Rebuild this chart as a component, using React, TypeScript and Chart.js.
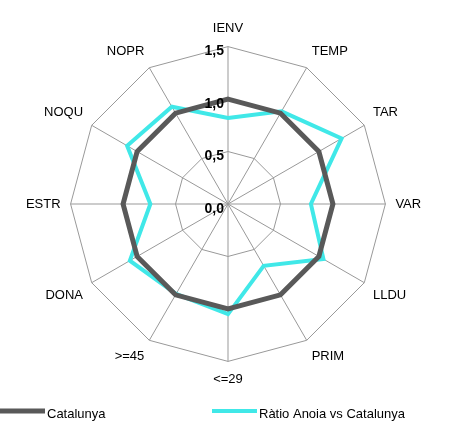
import React, { useEffect, useRef } from "react";
import { Chart, registerables } from "chart.js";
Chart.register(...registerables);

const categories = ["IENV","TEMP","TAR","VAR","LLDU","PRIM","<=29",">=45","DONA","ESTR","NOQU","NOPR"];
const catalunya = [1,1,1,1,1,1,1,1,1,1,1,1];
const anoia = [0.82,1.02,1.25,0.79,1.05,0.68,1.05,0.99,1.08,0.74,1.11,1.07];
const tickValues = [0, 0.5, 1, 1.5];

const FONT = "Liberation Sans";

const overlay = {
  id: "overlay",
  afterDraw(chart: any) {
    const ctx = chart.ctx;
    const r = chart.scales.r;
    ctx.save();
    ctx.font = `bold 14px ${FONT}`;
    ctx.fillStyle = "#000";
    ctx.textAlign = "right";
    ctx.textBaseline = "middle";
    for (const v of tickValues) {
      const y = r.yCenter - r.getDistanceFromCenterForValue(v);
      ctx.fillText(v.toFixed(1).replace(".", ","), r.xCenter - 4, y + 5);
    }
    ctx.font = `13px ${FONT}`;
    ctx.textAlign = "left";
    const items = [{ x: 0, ds: 0 }, { x: 212, ds: 1 }];
    for (const it of items) {
      const ds = chart.data.datasets[it.ds];
      ctx.strokeStyle = ds.borderColor;
      ctx.lineWidth = ds.borderWidth;
      ctx.beginPath();
      ctx.moveTo(it.x, 411);
      ctx.lineTo(it.x + 45, 411);
      ctx.stroke();
      ctx.fillText(ds.label, it.x + 47, 414);
    }
    ctx.restore();
  },
};

export default function App() {
  const ref = useRef<HTMLCanvasElement>(null);
  useEffect(() => {
    const chart = new Chart(ref.current!, {
      type: "radar",
      data: {
        labels: categories,
        datasets: [
          { label: "Catalunya", data: catalunya, borderColor: "#595959", backgroundColor: "#595959", borderWidth: 5, pointRadius: 0, fill: false },
          { label: "Ràtio Anoia vs Catalunya", data: anoia, borderColor: "#40E8E8", backgroundColor: "#40E8E8", borderWidth: 4, pointRadius: 0, fill: false },
        ],
      },
      options: {
        animation: false,
        responsive: false,
        layout: { padding: { top: 22, bottom: 37, left: 0, right: 18 } },
        plugins: { legend: { display: false }, tooltip: { enabled: false } },
        scales: {
          r: {
            min: 0, max: 1.5,
            ticks: { stepSize: 0.5, display: false },
            grid: { color: "#999", lineWidth: 1 },
            angleLines: { color: "#999" },
            pointLabels: { color: "#000", font: { family: FONT, size: 13 }, padding: 10 },
          },
        },
      },
      plugins: [overlay],
    });
    return () => chart.destroy();
  }, []);
  return (
    <div style={{ position: "absolute", left: 0, top: 0, width: 474, height: 425, background: "#fff" }}>
      <canvas ref={ref} width={474} height={425} />
    </div>
  );
}
